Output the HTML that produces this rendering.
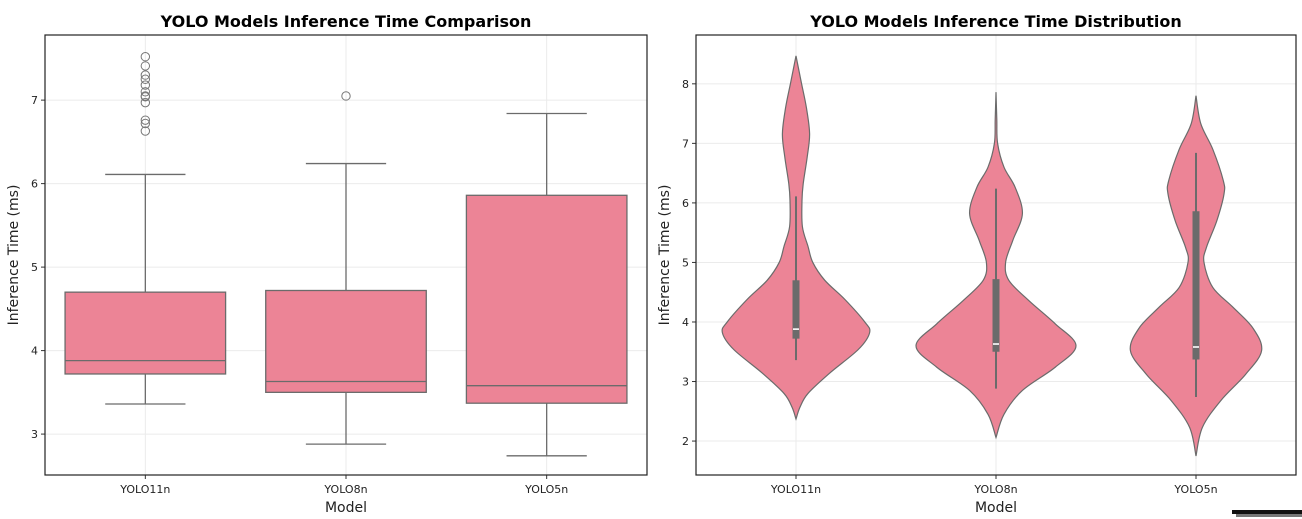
<!DOCTYPE html>
<html><head><meta charset="utf-8"><style>
html,body{margin:0;padding:0;background:#fff;}
svg{display:block;font-family:"DejaVu Sans","Liberation Sans",sans-serif;}
</style></head><body>
<svg id="chart" width="1302" height="519" viewBox="0 0 1302 519">
<g id="left"></g>
<g id="right"></g>
<rect x="1232" y="510" width="70" height="4" fill="#111"/>
<rect x="1236" y="514" width="66" height="3" fill="#777"/>
</svg>
<script>
const categories = ["YOLO11n", "YOLO8n", "YOLO5n"];
const q1Values = [3.72, 3.50, 3.37];
const medianValues = [3.88, 3.63, 3.58];
const q3Values = [4.70, 4.72, 5.86];
const whiskerLow = [3.36, 2.88, 2.74];
const whiskerHigh = [6.11, 6.24, 6.84];
const outliers11n = [7.52, 7.41, 7.30, 7.25, 7.18, 7.10, 7.05, 7.04, 6.97, 6.76, 6.72, 6.63];
const outliers8n = [7.05];
const outliers5n = [];
const leftTicks = [3, 4, 5, 6, 7];
const rightTicks = [2, 3, 4, 5, 6, 7, 8];
// violin profiles: value levels and relative density
const violin11nLevels = [8.47,8.2,8.0,7.6,7.16,6.77,6.32,6.04,5.6,5.27,5.0,4.7,4.38,4.0,3.82,3.54,3.14,2.8,2.57,2.37];
const violin11nDensity = [0,0.04,0.07,0.13,0.17,0.14,0.09,0.075,0.08,0.15,0.21,0.36,0.61,0.86,0.92,0.78,0.42,0.15,0.05,0];
const violin8nLevels = [7.86,7.4,7.0,6.6,6.26,5.82,5.37,5.0,4.7,4.36,3.97,3.6,3.24,2.85,2.45,2.06];
const violin8nDensity = [0,0.01,0.02,0.1,0.24,0.33,0.21,0.12,0.16,0.41,0.74,1.0,0.74,0.33,0.1,0];
const violin5nLevels = [7.8,7.33,6.9,6.38,6.15,5.7,5.25,5.0,4.58,4.25,3.9,3.52,3.12,2.68,2.23,1.75];
const violin5nDensity = [0,0.06,0.21,0.34,0.35,0.26,0.13,0.1,0.21,0.46,0.71,0.82,0.62,0.31,0.08,0];

const NS = "http://www.w3.org/2000/svg";
const FILL = "#ec8496", EDGE = "#6b6b6b", GRID = "#ebebeb";
function mk(parent, tag, attrs, text) {
  const e = document.createElementNS(NS, tag);
  for (const k in attrs) e.setAttribute(k, attrs[k]);
  if (text !== undefined) e.textContent = text;
  parent.appendChild(e);
  return e;
}
function panel(g, L, R, T, B, vmin, vmax, ticks, title) {
  const yS = v => B - (v - vmin) / (vmax - vmin) * (B - T);
  const band = (R - L) / categories.length;
  const xS = i => L + band * (i + 0.5);
  ticks.forEach(t => {
    const gl = mk(g, "line", {x1: L, x2: R, y1: yS(t), y2: yS(t), stroke: GRID, "stroke-width": 1});
    
    
    const tk = mk(g, "line", {x1: L - 4, x2: L, y1: yS(t), y2: yS(t), stroke: "#333", "stroke-width": 1});
    
    
    const tl = mk(g, "text", {x: L - 7, y: yS(t) + 4, "text-anchor": "end", "font-size": 11, fill: "#222"}, String(t));
    
    
  });
  categories.forEach((c, i) => {
    const gl = mk(g, "line", {x1: xS(i), x2: xS(i), y1: T, y2: B, stroke: GRID, "stroke-width": 1});
    
    
    const tk = mk(g, "line", {x1: xS(i), x2: xS(i), y1: B, y2: B + 4, stroke: "#333", "stroke-width": 1});
    
    
    const tl = mk(g, "text", {x: xS(i), y: B + 18, "text-anchor": "middle", "font-size": 11, fill: "#222"}, c);
    
    
  });
  const ti = mk(g, "text", {x: (L + R) / 2, y: 27, "text-anchor": "middle", "font-size": 16, "font-weight": "bold", fill: "#000"}, title);
  
  
  const xl = mk(g, "text", {x: (L + R) / 2, y: B + 37, "text-anchor": "middle", "font-size": 14, fill: "#222"}, "Model");
  
  
  const yx = L - 27, yy = (T + B) / 2;
  const yl = mk(g, "text", {x: yx, y: yy, "text-anchor": "middle", "font-size": 14, fill: "#222", transform: `rotate(-90 ${yx} ${yy})`}, "Inference Time (ms)");
  
  
  return {yS, xS, band};
}
function frame(g, L, R, T, B) {
  const f = mk(g, "rect", {x: L, y: T, width: R - L, height: B - T, fill: "none", stroke: "#222", "stroke-width": 1.2});
  
  
}

// Left boxplot
(function () {
  const g = document.getElementById("left");
  const L = 45, R = 647, T = 35, B = 475;
  const s = panel(g, L, R, T, B, 2.51, 7.78, leftTicks, "YOLO Models Inference Time Comparison");
  const outl = [outliers11n, outliers8n, outliers5n];
  categories.forEach((c, i) => {
    const cx = s.xS(i), w = s.band * 0.8, cap = w / 2;
    const grp = mk(g, "g", {});
    
    
    mk(grp, "line", {x1: cx, x2: cx, y1: s.yS(q3Values[i]), y2: s.yS(whiskerHigh[i]), stroke: EDGE, "stroke-width": 1.3});
    mk(grp, "line", {x1: cx, x2: cx, y1: s.yS(q1Values[i]), y2: s.yS(whiskerLow[i]), stroke: EDGE, "stroke-width": 1.3});
    mk(grp, "line", {x1: cx - cap / 2, x2: cx + cap / 2, y1: s.yS(whiskerHigh[i]), y2: s.yS(whiskerHigh[i]), stroke: EDGE, "stroke-width": 1.3});
    mk(grp, "line", {x1: cx - cap / 2, x2: cx + cap / 2, y1: s.yS(whiskerLow[i]), y2: s.yS(whiskerLow[i]), stroke: EDGE, "stroke-width": 1.3});
    mk(grp, "rect", {x: cx - w / 2, y: s.yS(q3Values[i]), width: w, height: s.yS(q1Values[i]) - s.yS(q3Values[i]), fill: FILL, stroke: EDGE, "stroke-width": 1.3});
    mk(grp, "line", {x1: cx - w / 2, x2: cx + w / 2, y1: s.yS(medianValues[i]), y2: s.yS(medianValues[i]), stroke: EDGE, "stroke-width": 1.3});
    outl[i].forEach(v => {
      const o = mk(grp, "circle", {cx: cx, cy: s.yS(v), r: 4.2, fill: "none", stroke: "#777", "stroke-width": 1});
      
      
    });
  });
  frame(g, L, R, T, B);
})();

// Right violin
(function () {
  const g = document.getElementById("right");
  const L = 696, R = 1296, T = 35, B = 475;
  const s = panel(g, L, R, T, B, 1.43, 8.82, rightTicks, "YOLO Models Inference Time Distribution");
  const levels = [violin11nLevels, violin8nLevels, violin5nLevels];
  const dens = [violin11nDensity, violin8nDensity, violin5nDensity];
  const maxHalf = s.band * 0.4;
  function smooth(pts) {
    let d = `M${pts[0][0]},${pts[0][1]}`;
    for (let k = 0; k < pts.length - 1; k++) {
      const p0 = pts[Math.max(k - 1, 0)], p1 = pts[k], p2 = pts[k + 1], p3 = pts[Math.min(k + 2, pts.length - 1)];
      const c1 = [p1[0] + (p2[0] - p0[0]) / 6, p1[1] + (p2[1] - p0[1]) / 6];
      const c2 = [p2[0] - (p3[0] - p1[0]) / 6, p2[1] - (p3[1] - p1[1]) / 6];
      d += ` C${c1[0]},${c1[1]} ${c2[0]},${c2[1]} ${p2[0]},${p2[1]}`;
    }
    return d;
  }
  categories.forEach((c, i) => {
    const cx = s.xS(i);
    const grp = mk(g, "g", {});
    
    
    const right = levels[i].map((v, k) => [cx + dens[i][k] * maxHalf, s.yS(v)]);
    const left = levels[i].map((v, k) => [cx - dens[i][k] * maxHalf, s.yS(v)]).reverse();
    const d = smooth(right) + " L" + smooth(left).slice(1) + " Z";
    mk(grp, "path", {d: d, fill: FILL, stroke: EDGE, "stroke-width": 1.2});
    mk(grp, "line", {x1: cx, x2: cx, y1: s.yS(whiskerHigh[i]), y2: s.yS(whiskerLow[i]), stroke: "#6b6b6b", "stroke-width": 2});
    mk(grp, "rect", {x: cx - 3.5, y: s.yS(q3Values[i]), width: 7, height: s.yS(q1Values[i]) - s.yS(q3Values[i]), fill: "#6b6b6b"});
    mk(grp, "line", {x1: cx - 3, x2: cx + 3, y1: s.yS(medianValues[i]), y2: s.yS(medianValues[i]), stroke: "#fff", "stroke-width": 1.6});
  });
  frame(g, L, R, T, B);
})();
</script>
</body></html>
